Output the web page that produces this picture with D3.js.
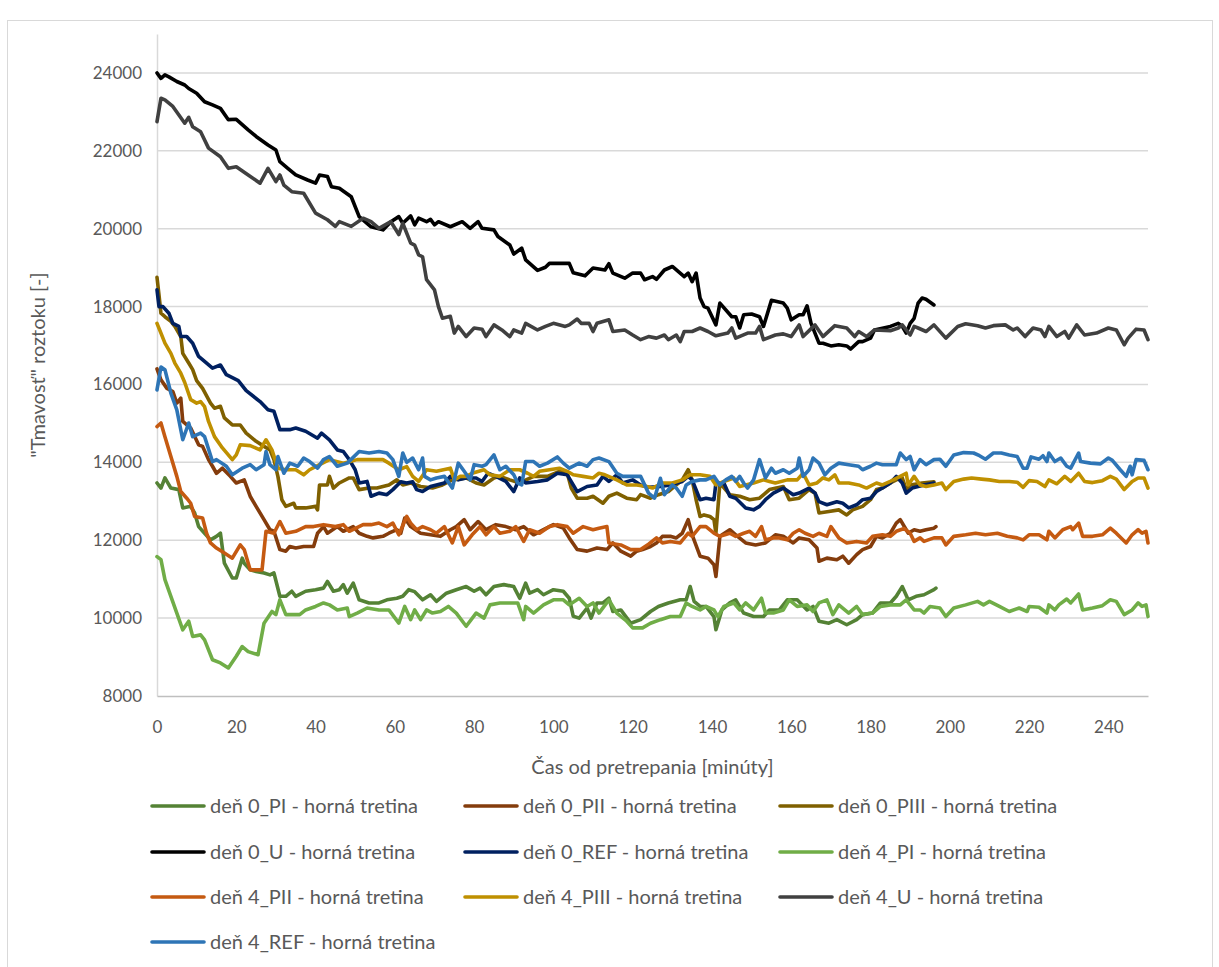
<!DOCTYPE html>
<html>
<head>
<meta charset="utf-8">
<script src="https://cdn.jsdelivr.net/npm/d3@7/dist/d3.min.js"></script>
<style>
    body { margin: 0; background: #fff; }
    svg text { font-family: Lato, "Open Sans", sans-serif; fill: #595959; }
</style>
</head>
<body>
<div id="chart"></div>
<script>
// [minute, value]
const d0PI = [[0,13470],[1,13340],[2,13600],[3.5,13340],[5.5,13300],[6.5,12830],[8.5,12870],[9.5,12700],[10.5,12350],[12,12180],[13.5,12010],[15,12100],[16,12180],[17,11410],[19,11030],[20,11030],[21.5,11540],[22,11410],[23.5,11240],[25,11200],[27,11160],[28.5,11110],[29.5,11160],[31,10560],[32.5,10560],[34,10690],[35,10560],[37.5,10690],[40,10730],[42,10770],[43,10940],[44.5,10690],[46,10730],[47,10860],[48,10640],[49.5,10900],[51,10470],[53.5,10390],[56,10390],[58,10470],[60.5,10510],[62,10560],[63.5,10730],[65,10680],[67,10470],[69,10600],[70.5,10430],[73,10640],[75.5,10730],[78,10810],[80,10690],[81.5,10770],[83,10600],[85,10810],[87.5,10860],[90,10810],[91.5,10510],[93,10900],[94,10640],[96,10730],[97.5,10600],[100,10730],[102.5,10690],[104,10510],[105,10050],[106.5,10000],[108.5,10260],[109.5,10000],[111,10390],[112.5,10390],[114,10510],[115,10170],[117,10210],[119.5,9870],[122,9960],[124.5,10170],[126.5,10300],[129,10390],[132,10470],[133.5,10470],[134.5,10810],[135.5,10430],[137,10300],[138.5,10300],[140.5,10040],[141,9700],[142.5,10210],[144.5,10390],[146,10470],[148,10130],[150.5,10040],[153,10040],[154.5,10210],[157,10210],[159,10470],[161.5,10470],[164,10210],[165.5,10300],[167,9920],[169.5,9870],[171.5,9960],[174,9830],[176.5,9960],[178,10090],[180.5,10130],[182.5,10390],[185,10390],[186.5,10560],[188,10810],[189.5,10470],[191.5,10560],[193.5,10600],[196,10730],[196.5,10770]];
const d0PII = [[0,16400],[1,16120],[2.5,15900],[4,15820],[5,15520],[6,15650],[6.5,15050],[8.5,14880],[10.5,14450],[11.5,14410],[13,14070],[14,13900],[15,13720],[16.5,13850],[18.5,13640],[20,13470],[22,13550],[23.5,13130],[25,12870],[27,12530],[28.5,12270],[29.5,12230],[31,11760],[32.5,11720],[33.5,11840],[35,11800],[37,11840],[39.5,11840],[40.5,12180],[42,12350],[43,12180],[45.5,12350],[47,12230],[49.5,12350],[51,12180],[53,12100],[54.5,12060],[57,12100],[58.5,12180],[60.5,12270],[61.5,12180],[62.5,12570],[64,12350],[66.5,12180],[69,12140],[71.5,12100],[74,12270],[75.5,12350],[77.5,12530],[79,12270],[81,12480],[83,12270],[85.5,12400],[88,12350],[90.5,12270],[92.5,12350],[95,12140],[97.5,12270],[100,12400],[102.5,12310],[104,12060],[106,11760],[108.5,11720],[111,11800],[113.5,11760],[115,11930],[117,11720],[119.5,11590],[121,11720],[122.5,11760],[124.5,11840],[126,11930],[127.5,12100],[129.5,12100],[131,12060],[132.5,12180],[134,12530],[135,12140],[137,11590],[139,11540],[140.5,11370],[141,11070],[142,12100],[144.5,12270],[146,12140],[148.5,11930],[151,11880],[153.5,11930],[156,12140],[158,12100],[160.5,11930],[162,12060],[164.5,12010],[166.5,11800],[167,11460],[169,11540],[171.5,11500],[173,11590],[174.5,11410],[176.5,11630],[178,11760],[180,11840],[181.5,12100],[183,12060],[185,12180],[186.5,12440],[187.5,12530],[189,12270],[189.5,12180],[191,12270],[192.5,12230],[194,12270],[196,12310],[196.5,12350]];
const d0PIII = [[0,18750],[0.5,18300],[1,17830],[2,17740],[3.5,17620],[4.5,17490],[6,17230],[6.5,16800],[8,16550],[9,16380],[10,16100],[11.5,15900],[13.5,15520],[14.5,15390],[16,15440],[17,15140],[19,14960],[21,14960],[22.5,14750],[25,14540],[27,14410],[28.5,14320],[29.5,14070],[30.5,13640],[31.5,13040],[32.5,12870],[34.5,12950],[35,12830],[37.5,12830],[40,12870],[40.5,12780],[41,13420],[43,13420],[43.5,13640],[44.5,13340],[46,13470],[48.5,13600],[49.5,13600],[51,13300],[53.5,13340],[55.5,13340],[57,13380],[58.5,13420],[60.5,13550],[62,13420],[64,13470],[66.5,13380],[69.5,13340],[72,13420],[74.5,13550],[78,13600],[80.5,13470],[82.5,13420],[85,13600],[86.5,13640],[89,13550],[91.5,13470],[95,13640],[98.5,13640],[101.5,13770],[103.5,13720],[104.5,13340],[106,13080],[108.5,13080],[110,13130],[112.5,12950],[114,13130],[116,13210],[118.5,13080],[121,13040],[122,13170],[124.5,13080],[126.5,13170],[129,13250],[132.5,13550],[134,13810],[135,13550],[136,13040],[137,12610],[138,12650],[139.5,12610],[140.5,12530],[141,12180],[142,13470],[144.5,13170],[147,13130],[149.5,13040],[152,13080],[154.5,13300],[158,13380],[159.5,13040],[162,13080],[164.5,13300],[166,13210],[167,12700],[169.5,12740],[172,12780],[174,12650],[175.5,12780],[178,12870],[180,13040],[181.5,13300],[183,13340],[185,13470],[186.5,13550],[188,13600],[189,13300],[190,13420],[193,13470],[196,13500]];
const d0U = [[0,24000],[1,23860],[2,23950],[3,23900],[5,23780],[7,23690],[8,23600],[10,23480],[12,23260],[14,23180],[16,23090],[18,22800],[20,22810],[23,22540],[25,22370],[28,22150],[30,22020],[31,21720],[33,21550],[35,21380],[38,21250],[40,21170],[41,21380],[43,21340],[44,21080],[46,21040],[49,20820],[51,20310],[54,20050],[57,19970],[59,20180],[61,20310],[62,20140],[64,20330],[65,20100],[66,20270],[68,20180],[69,20240],[70,20100],[71,20180],[74,20050],[77,20180],[79,20010],[81,20180],[82,20010],[85,19970],[86,19800],[89,19580],[90,19350],[92,19500],[93,19200],[96,18930],[98,19010],[99,19110],[104,19110],[105,18870],[108,18790],[110,18990],[113,18940],[114,19100],[115,18860],[118,18730],[120,18860],[122,18860],[123,18690],[125,18770],[126,18700],[128,18940],[130,19030],[133,18770],[134,18860],[135,18640],[136,18860],[137,18220],[138,18000],[139,17960],[141,17530],[142,18090],[145,17740],[146,17740],[147,17450],[148,17790],[150,17810],[152,17740],[153,17490],[155,18160],[158,18090],[159,17960],[160,17660],[162,17790],[163,17790],[164,18020],[165,17570],[167,17060],[168,17060],[170,16990],[172,17020],[174,16990],[175,16910],[177,17100],[178,17100],[180,17190],[181,17400],[185,17490],[187,17570],[188,17490],[189,17320],[190,17570],[191,17700],[192,18090],[193,18220],[194,18190],[196,18040]];
const d0REF = [[0,18430],[0.5,18000],[1.5,18000],[3,17830],[4,17570],[5.5,17490],[6,17230],[7.5,17230],[9,17060],[10.5,16720],[12,16590],[14,16420],[16,16500],[17.5,16250],[20.5,16100],[22.5,15840],[26,15560],[28,15350],[29.5,15310],[31,14840],[33.5,14840],[35,14880],[37.5,14800],[40.5,14620],[41.5,14750],[43.5,14580],[45.5,14320],[47,14280],[48.5,14070],[50,13810],[51,13470],[53,13510],[54,13130],[56,13210],[58,13170],[59.5,13300],[61.5,13500],[63,13470],[64.5,13500],[65.5,13300],[67,13250],[69,13380],[70.5,13420],[72.5,13470],[74,13640],[76,13550],[78,13600],[80.5,13600],[82,13510],[83.5,13720],[85.5,13640],[88,13510],[90,13250],[91.5,13600],[93,13470],[96,13510],[98.5,13550],[101,13720],[103.5,13680],[105,13420],[106,13250],[108.5,13380],[111,13420],[112.5,13640],[114,13510],[116,13680],[117.5,13470],[120,13550],[122,13420],[124,13360],[127,13380],[129.5,13420],[132.5,13510],[134,13640],[135,13550],[137,13040],[138.5,13080],[140.5,13040],[141,13470],[143,13470],[144.5,13130],[146,13080],[148.5,12830],[150.5,12780],[152,12870],[153.5,13040],[155.5,13210],[158,13340],[160.5,13170],[162,13210],[164.5,13340],[166,13210],[167,12990],[169,12910],[171.5,12990],[173,12950],[174.5,12830],[176.5,12910],[178,13040],[180,13080],[181.5,13250],[183,13340],[185,13470],[186.5,13640],[188,13470],[189,13210],[190.5,13340],[193.5,13420],[196,13470]];
const d4PI = [[0,11580],[1,11500],[2,10990],[3.5,10560],[5,10130],[6.5,9700],[8,9920],[9,9530],[11,9570],[12,9440],[14,8930],[16,8850],[18,8720],[20,9020],[21.5,9270],[23,9140],[25.5,9060],[27,9870],[29,10170],[30,10090],[31,10470],[32.5,10090],[34.5,10090],[36,10090],[37.5,10210],[40,10300],[42,10390],[43.5,10340],[45.5,10210],[48,10260],[48.5,10040],[50.5,10130],[53,10260],[56,10210],[58.5,10210],[61,9870],[62.5,10300],[64,9960],[65,10210],[66.5,9960],[68,10210],[69.5,10130],[71.5,10170],[73.5,10300],[75.5,10130],[78,9790],[80.5,10130],[82.5,10000],[84,10340],[86.5,10390],[89,10390],[91,10390],[92.5,9960],[93,10300],[95,10130],[97.5,10340],[100,10470],[102.5,10470],[104,10340],[106.5,10510],[108.5,10300],[110,10390],[111.5,10130],[114,10470],[116,10130],[118.5,9920],[120,9750],[122.5,9750],[124.5,9870],[127,9960],[129.5,10040],[132,10040],[133.5,10390],[135,10300],[137,10210],[138.5,10300],[140.5,10210],[141.5,10040],[143,10300],[145.5,10390],[147,10210],[148.5,10390],[150.5,10210],[152.5,10510],[153.5,10130],[155.5,10130],[158,10210],[159.5,10470],[161.5,10300],[164,10340],[165.5,10170],[167,10390],[169,10470],[170.5,10090],[172,10340],[174.5,10130],[176.5,10300],[178,10090],[180.5,10130],[182.5,10300],[185,10340],[187.5,10340],[189,10470],[191,10210],[192.5,10210],[193.5,10130],[195,10300],[197.5,10260],[199,10040],[201,10260],[204,10340],[207,10430],[208.5,10340],[210,10430],[212.5,10300],[215,10170],[217.5,10260],[219.5,10170],[220,10300],[222.5,10280],[224.5,10130],[225,10340],[226.5,10210],[227.5,10340],[229.5,10490],[230.5,10390],[232.5,10620],[233.5,10210],[236,10260],[238.5,10320],[240.5,10470],[242,10430],[244,10090],[246,10210],[247.5,10390],[248.5,10300],[249.5,10340],[250,10040]];
const d4PII = [[0,14920],[1,15010],[2,14660],[3.5,14150],[5,13640],[6,13250],[7.5,13080],[8.5,12950],[9.5,12610],[11.5,12570],[12.5,12180],[13.5,11930],[15,11800],[17,11670],[19,11540],[21,11880],[22,11760],[23.5,11240],[25,11240],[26.5,11240],[27.5,12230],[29.5,12180],[31,12480],[32.5,12180],[35,12230],[37.5,12350],[39.5,12350],[42,12400],[45,12350],[47,12400],[48.5,12230],[52,12400],[54,12400],[56,12440],[58,12350],[59.5,12440],[61,12140],[63,12610],[64,12440],[65.5,12270],[67,12350],[69,12270],[70.5,12180],[72.5,12350],[74.5,11930],[76,12350],[77.5,11880],[79.5,12140],[81.5,12350],[83,12140],[85,12350],[86.5,12180],[89,12230],[90.5,12350],[92.5,11970],[94,12270],[96.5,12180],[99,12350],[101,12400],[103.5,12350],[105,12180],[107.5,12350],[110,12270],[111.5,12310],[113.5,12350],[114,11930],[117,11880],[119.5,11760],[122,11760],[124,11900],[126,12060],[127.5,11930],[129.5,11970],[132,11930],[134,12180],[135,12100],[137,12350],[138.5,12350],[140.5,12180],[142,12100],[144.5,12180],[146,12100],[148,12180],[149.5,12230],[151,12100],[152.5,12350],[153.5,12010],[155.5,12060],[157,12060],[159,12010],[160.5,12180],[162,12270],[163.5,12180],[165.5,12100],[167,12180],[169,12100],[170,12350],[172,12060],[174,11930],[176.5,11970],[179,11930],[180.5,12100],[183,12140],[185,12100],[186.5,12230],[188.5,12300],[190,12180],[191,11970],[192.5,12060],[193.5,11970],[196,12060],[198,12060],[199,11880],[201,12100],[204,12140],[206.5,12180],[209,12140],[212,12180],[214.5,12100],[217,12060],[218.5,12010],[220,12140],[222.5,12140],[224.5,12010],[225,12230],[226.5,12060],[228.5,12270],[230.5,12350],[231,12270],[232.5,12440],[233.5,12100],[236,12100],[238.5,12140],[240.5,12310],[242,12180],[244.5,11930],[246,12140],[247.5,12270],[248.5,12180],[249.5,12230],[250,11930]];
const d4PIII = [[0,17570],[1,17320],[2,17060],[3.5,16800],[4.5,16550],[6,16290],[7,16050],[8.5,15610],[10,15520],[11,15560],[12,15430],[13,15050],[14.5,14660],[16.5,14370],[19,14070],[20,14190],[21,14450],[23.5,14430],[26,14320],[27.5,14580],[29,14320],[30.5,13850],[32.5,13810],[35,13810],[37,13680],[38.5,13810],[41,13940],[43.5,14070],[47,13980],[50.5,14070],[53.5,14070],[57,14070],[58.5,13980],[61,13810],[63,13890],[64.5,13640],[66,13510],[68,13810],[70.5,13770],[74,13850],[75,13550],[76.5,13640],[78,13640],[79.5,13720],[82.5,13810],[84,13680],[86.5,13640],[89,13810],[91.5,13810],[93.5,13720],[95,13640],[96.5,13770],[99,13810],[101.5,13850],[103.5,13770],[105,13680],[107.5,13640],[110,13600],[111.5,13720],[113,13680],[116,13550],[118.5,13420],[121,13420],[123.5,13380],[125,13340],[127.5,13470],[130,13470],[132.5,13550],[134.5,13680],[137,13680],[139.5,13640],[141,13420],[143,13510],[145.5,13600],[147,13380],[148.5,13420],[150.5,13470],[153,13550],[154.5,13510],[156,13470],[159,13550],[161.5,13550],[163,13720],[164.5,13420],[166.5,13470],[168,13600],[169.5,13550],[171,13680],[172,13470],[174.5,13470],[177,13420],[179,13340],[181.5,13470],[183,13420],[185,13510],[187.5,13640],[189,13720],[189.5,13420],[191,13640],[192.5,13420],[194,13380],[196,13420],[198,13470],[199,13300],[201,13510],[203.5,13570],[205.5,13600],[208,13570],[210,13550],[212.5,13510],[215,13510],[217,13490],[218.5,13360],[220,13530],[222,13510],[224,13380],[225,13550],[227,13450],[229,13640],[230.5,13510],[232.5,13720],[234,13510],[236,13480],[238.5,13530],[240.5,13640],[242,13570],[244,13300],[246,13510],[247.5,13600],[249,13600],[250,13340]];
const d4U = [[0,22750],[1,23350],[2,23310],[4,23140],[7,22710],[8,22860],[9,22620],[11,22490],[13,22070],[16,21850],[18,21550],[20,21590],[23,21380],[26,21170],[28,21550],[30,21210],[31,21380],[32,21120],[34,20950],[37,20910],[40,20400],[43,20230],[45,20060],[46,20180],[49,20060],[52,20270],[54,20180],[56,20010],[59,20180],[61,19850],[62,20140],[64,19630],[65,19580],[66,19330],[67,19280],[68,18690],[70,18430],[71,18000],[72,17700],[74,17750],[75,17320],[76,17490],[78,17230],[80,17450],[82,17420],[83,17230],[85,17530],[87,17400],[89,17230],[90,17400],[92,17320],[93,17570],[96,17400],[98,17490],[100,17570],[103,17490],[104,17530],[106,17680],[107,17570],[109,17570],[110,17360],[111,17570],[114,17660],[115,17360],[118,17400],[120,17270],[122,17150],[124,17230],[126,17190],[128,17270],[129,17150],[131,17270],[132,17100],[133,17360],[135,17360],[137,17450],[139,17360],[141,17250],[144,17320],[145,17450],[146,17190],[149,17320],[151,17320],[152,17490],[153,17150],[156,17270],[158,17300],[160,17230],[162,17530],[163,17230],[166,17530],[168,17230],[171,17510],[174,17450],[176,17230],[177,17360],[179,17230],[181,17400],[185,17380],[187,17450],[188,17530],[189,17400],[190,17270],[191,17490],[192,17450],[194,17360],[196,17530],[199,17190],[202,17490],[204,17560],[207,17510],[209,17450],[211,17510],[214,17530],[216,17400],[217,17450],[219,17230],[221,17450],[223,17400],[224,17230],[225,17490],[227,17230],[229,17360],[230,17190],[232,17530],[234,17270],[237,17320],[240,17450],[242,17400],[244,17020],[245,17190],[247,17420],[249,17400],[250,17150]];
const d4REF = [[0,15860],[1,16450],[2,16380],[3.5,15780],[5,15350],[6.5,14580],[8,15010],[9,14660],[11,14750],[12,14660],[14,14020],[15,14070],[17.5,13900],[19,13680],[21.5,13850],[23.5,13940],[25,13810],[27,13940],[27.5,14280],[28.5,13940],[30,13810],[30.5,14150],[32,13720],[33.5,13980],[35.5,13900],[37,14110],[38.5,14020],[40.5,13850],[42,14070],[43.5,14150],[45.5,13900],[48,13980],[51,14280],[53.5,14240],[56,14280],[58,14240],[59.5,14070],[61,13640],[62,14240],[63,14000],[64.5,14110],[66,13810],[67,14110],[67.5,13640],[69,13550],[70.5,13600],[72.5,13640],[74.5,13340],[76,13980],[77.5,13770],[79,13550],[80,13940],[82,13900],[83,13940],[85,14190],[86.5,13810],[88,13900],[90,13680],[91,13470],[92,13420],[93,14020],[95,14020],[96.5,13900],[98.5,13980],[101,14140],[102.5,13980],[104,13850],[106.5,13980],[108.5,13900],[110,14070],[111.5,14110],[114,14020],[116,13720],[117.5,13640],[120,13640],[122,13640],[124,13210],[125.5,13080],[127,13590],[128,13170],[130,13420],[131,13340],[132.5,13130],[133.5,13420],[135,13510],[137,13550],[138.5,13550],[140.5,13640],[142,13420],[143.5,13550],[145,13640],[146,13510],[147,13640],[148,13470],[149,13340],[150.5,13550],[152,14070],[153.5,13600],[155,13850],[156,13720],[158,13810],[159.5,13720],[161.5,13850],[162,14110],[163,13640],[164.5,13810],[165.5,14110],[167,13980],[168.5,13680],[170,13850],[172,13980],[174.5,13940],[177,13900],[178,13810],[180,13900],[181.5,13980],[183,13940],[186.5,13940],[187.5,14240],[189,14070],[190,14150],[191,13810],[192.5,14070],[194,13940],[196,14070],[197.5,14080],[199,13900],[201,14190],[203.5,14250],[206,14240],[207.5,14170],[209,14080],[211,14240],[213,14240],[215,14190],[217,14150],[218.5,13850],[219.5,13850],[220.5,14140],[222.5,14080],[223.5,14170],[224.5,14020],[225,14240],[226.5,14020],[228,14110],[229.5,13900],[230.5,13850],[232.5,14240],[233,14020],[235.5,13980],[238,13960],[240,14110],[241,14050],[243,13810],[244.5,13640],[245.5,13900],[246,13680],[247,14070],[249,14050],[250,13810]];

const seriesNames = [
    "deň 0_PI - horná tretina", "deň 0_PII - horná tretina", "deň 0_PIII - horná tretina",
    "deň 0_U - horná tretina", "deň 0_REF - horná tretina", "deň 4_PI - horná tretina",
    "deň 4_PII - horná tretina", "deň 4_PIII - horná tretina", "deň 4_U - horná tretina",
    "deň 4_REF - horná tretina"
];
const seriesValues = [d0PI, d0PII, d0PIII, d0U, d0REF, d4PI, d4PII, d4PIII, d4U, d4REF];
const seriesColors = ["#548235", "#843c0c", "#7f6000", "#000000", "#002060",
                      "#70ad47", "#c55a11", "#bf9000", "#404040", "#2e75b6"];
const xTicks = [0, 20, 40, 60, 80, 100, 120, 140, 160, 180, 200, 220, 240];
const yTicks = [8000, 10000, 12000, 14000, 16000, 18000, 20000, 22000, 24000];
const xTitle = "Čas od pretrepania [minúty]";
const yTitle = "\"Tmavosť\" roztoku [-]";

const Chart = (function(d3) {
    const svgWidth = 1219,
        svgHeight = 967;
    const margin = { top: 34, right: 71, bottom: 271, left: 157 };
    const width = svgWidth - margin.left - margin.right,
        height = svgHeight - margin.top - margin.bottom;

    const svg = d3.select("#chart")
        .append("svg")
        .attr("width", svgWidth)
        .attr("height", svgHeight);

    // outer chart frame
    svg.append("rect")
        .attr("x", 7.5)
        .attr("y", 20.5)
        .attr("width", 1205)
        .attr("height", 980)
        .attr("fill", "none")
        .attr("stroke", "#d9d9d9");

    const g = svg.append("g")
        .attr("transform", `translate(${margin.left},${margin.top})`);

    // scales
    const x = d3.scaleLinear().domain([0, 250]).range([0, width]);
    const y = d3.scaleLinear().domain([8000, 25000]).range([height, 0]);

    // horizontal gridlines
    g.append("g")
        .selectAll("line")
        .data(yTicks.slice(1))
        .join("line")
        .attr("x1", 0)
        .attr("x2", width)
        .attr("y1", d => y(d))
        .attr("y2", d => y(d))
        .attr("stroke", "#d9d9d9")
        .attr("stroke-width", 1.5);

    // axes (no thousands separator, like the original)
    const yAxis = d3.axisLeft(y)
        .tickValues(yTicks)
        .tickFormat(d3.format("d"))
        .tickSize(0)
        .tickPadding(15);
    const xAxis = d3.axisBottom(x)
        .tickValues(xTicks)
        .tickFormat(d3.format("d"))
        .tickSize(0)
        .tickPadding(25);

    const yG = g.append("g").call(yAxis);
    yG.select(".domain").attr("stroke", "#d9d9d9").attr("stroke-width", 1.5);
    yG.selectAll("text").attr("font-size", 17).attr("fill", "#595959");

    const xG = g.append("g").attr("transform", `translate(0,${height})`).call(xAxis);
    xG.select(".domain").attr("stroke", "#bfbfbf").attr("stroke-width", 1.5);
    xG.selectAll("text").attr("font-size", 17).attr("fill", "#595959");

    // axis titles
    g.append("text")
        .attr("x", width / 2)
        .attr("y", height + 78)
        .attr("text-anchor", "middle")
        .attr("font-size", 20)
        .text(xTitle);

    g.append("text")
        .attr("transform", `translate(${45 - margin.left},${height / 2}) rotate(-90)`)
        .attr("text-anchor", "middle")
        .attr("font-size", 20)
        .text(yTitle);

    // lines
    const line = d3.line()
        .x(d => x(d[0]))
        .y(d => y(d[1]));

    g.append("g")
        .selectAll("path")
        .data(seriesValues)
        .join("path")
        .attr("d", line)
        .attr("fill", "none")
        .attr("stroke", (d, i) => seriesColors[i])
        .attr("stroke-width", 3.6)
        .attr("stroke-linejoin", "round")
        .attr("stroke-linecap", "round");

    // legend, 3 columns
    const legendCols = [152, 465, 780],
        legendRows = [806, 852, 897, 942];

    const item = svg.append("g")
        .selectAll("g")
        .data(seriesNames)
        .join("g")
        .attr("transform", (d, i) => `translate(${legendCols[i % 3]},${legendRows[Math.floor(i / 3)]})`);

    item.append("line")
        .attr("x1", 0)
        .attr("x2", 52)
        .attr("stroke", (d, i) => seriesColors[i])
        .attr("stroke-width", 3.6)
        .attr("stroke-linecap", "round");

    item.append("text")
        .attr("x", 58)
        .attr("dy", "0.35em")
        .attr("font-size", 20)
        .text(d => d);

    return { svg: svg };
})(d3);
</script>
</body>
</html>
